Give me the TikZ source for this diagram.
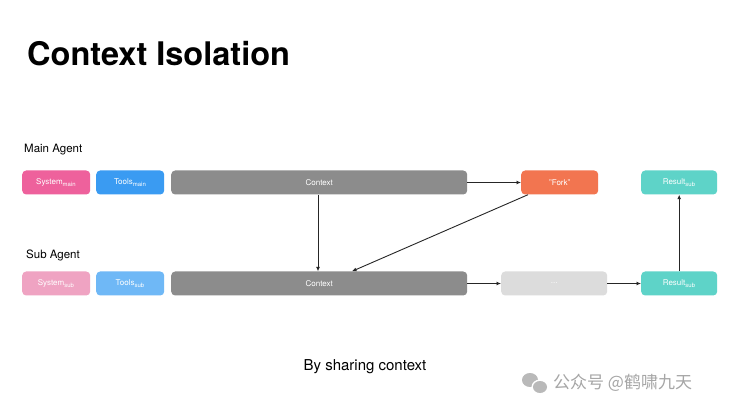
\documentclass[tikz,border=0pt]{standalone}
\usepackage{fontspec}
\setmainfont{TeX Gyre Heros}
\newfontfamily\cjk{Noto Sans CJK SC}
\usetikzlibrary{arrows.meta}
\definecolor{cpink}{HTML}{EE619C}
\definecolor{cpinkl}{HTML}{EFA3C2}
\definecolor{cblue}{HTML}{3A9BF2}
\definecolor{cbluel}{HTML}{6FB8F6}
\definecolor{cgray}{HTML}{8C8C8C}
\definecolor{corange}{HTML}{F27550}
\definecolor{cteal}{HTML}{5ED3C8}
\definecolor{clight}{HTML}{DCDCDC}
\tikzset{
  box/.style={rounded corners=4pt, minimum height=24pt, inner sep=0pt, text=white, font=\fontsize{8}{9}\selectfont, anchor=west},
  conn/.style={-{Latex[length=4.5pt,width=4pt]}, line width=0.9pt, black!85},
  lbl/.style={anchor=west, font=\fontsize{11.5}{12}\selectfont, inner sep=0pt}
}
\begin{document}
\begin{tikzpicture}[x=1pt,y=-1pt]
\useasboundingbox[fill=white] (0,0) rectangle (741,419);
\node[anchor=base west, inner sep=0pt, font=\fontsize{32.5}{34}\bfseries] (title) at (27,66) {Context Isolation};
\node[lbl] (mainlbl) at (24,150) {Main Agent};
\node[lbl] (sublbl) at (26,255) {Sub Agent};
% main row
\node[box, fill=cpink, minimum width=68pt] (sysm) at (22,182.5) {System\textsubscript{main}};
\node[box, fill=cblue, minimum width=68pt] (toolm) at (96,182.5) {Tools\textsubscript{main}};
\node[box, fill=cgray, minimum width=296pt] (ctxm) at (171,182.5) {Context};
\node[box, fill=corange, minimum width=77pt] (fork) at (521,182.5) {"Fork"};
\node[box, fill=cteal, minimum width=76pt] (resm) at (641,182.5) {Result\textsubscript{sub}};
% sub row
\node[box, fill=cpinkl, minimum width=68pt] (syss) at (22,283.5) {System\textsubscript{sub}};
\node[box, fill=cbluel, minimum width=68pt] (tools) at (96,283.5) {Tools\textsubscript{sub}};
\node[box, fill=cgray, minimum width=296pt] (ctxs) at (171,283.5) {Context};
\node[box, fill=clight, minimum width=106pt] (dots) at (501,283.5) {...};
\node[box, fill=cteal, minimum width=76pt] (ress) at (641,283.5) {Result\textsubscript{sub}};
% connector end points
\path (fork.south west) ++(7,0) coordinate (fk);
\path (ctxs.north west) ++(181,0) coordinate (ck);
\path (ctxm.south west) ++(147,0) coordinate (cm);
\path (ctxs.north west) ++(147,0) coordinate (cs);
% connectors
\draw[conn] (ctxm.east) -- (fork.west);
\draw[conn] (cm) -- (cs);
\draw[conn] (fk) -- (ck);
\draw[conn] (ctxs.east) -- (dots.west);
\draw[conn] (dots.east) -- (ress.west);
\draw[conn] (ress.north) -- (resm.south);
\node[anchor=center, font=\fontsize{15}{16}\selectfont, inner sep=0pt] (cap) at (365,367) {By sharing context};
% watermark
\fill[gray!55] (530,380) ellipse (8pt and 7pt);
\fill[white] (540,387) ellipse (8.5pt and 7.5pt);
\fill[gray!55] (540,387) ellipse (7pt and 6pt);
\node[anchor=west, inner sep=0pt, text=gray!70, font=\cjk\fontsize{17}{18}\selectfont] (wm) at (553,383) {公众号 @鹤啸九天};
\end{tikzpicture}
\end{document}
